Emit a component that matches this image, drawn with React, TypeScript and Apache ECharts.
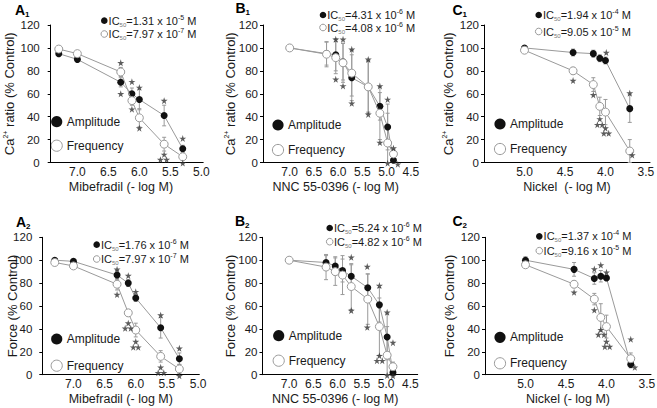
import React, { useEffect, useRef } from "react";
import * as echarts from "echarts";

const FONT = '"Liberation Sans", Arial, Helvetica, sans-serif';
const INK = "#1a1a1a";
const GREY = "#9a9a9a";
const STAR = "path://M50,0 L61,35 L98,35 L68,57 L79,91 L50,70 L21,91 L32,57 L2,35 L39,35 Z";

// ---------- x positions (-log M) ----------
const mibefradilLogM = [7.3, 7.0, 6.3, 6.12, 6.0, 5.6, 5.3];
const nncLogM = [7.0, 6.24, 6.05, 5.9, 5.72, 5.38, 5.14, 4.98, 4.86];
const nickelLogM = [5.0, 4.4, 4.15, 4.07, 4.0, 3.7];

const ticksA = [7.0, 6.5, 6.0, 5.5, 5.0];
const ticksB = [7.0, 6.5, 6.0, 5.5, 5.0, 4.5];
const ticksC = [5.0, 4.5, 4.0, 3.5];

// ---------- A1: Mibefradil, Ca2+ ratio ----------
const a1Amp = [95, 90, 70, 60, 55, 41, 12];
const a1AmpErr = [2, 2, 4, 5, 9, 9, 3];
const a1Freq = [99, 95, 79, 54, 39, 16, 5];
const a1FreqErr = [1, 2, 4, 4, 8, 6, 3];
const a1Stars = [[6.3, 87], [6.3, 60], [6.12, 70.5], [6.12, 46.5], [6.0, 65.5], [6.0, 30], [5.6, 54], [5.6, 7], [5.66, 2.5], [5.56, 2.5], [5.3, 21], [5.3, -0.5]];
const a1IC = [["1.31 x 10", "-5"], ["7.97 x 10", "-7"]];

// ---------- B1: NNC 55-0396, Ca2+ ratio ----------
const b1Amp = [100, 95, 94, 88, 74, 66, 49, 31, 2];
const b1AmpErr = [0, 10, 14, 16, 20, 22, 12, 20, 3];
const b1Freq = [100, 94.5, 91.5, 87, 78, 66, 43, 17, 7.5];
const b1FreqErr = [0, 11, 14, 17, 20, 23, 23, 26, 4];
const b1Stars = [[6.05, 107.5], [6.05, 72.6], [5.9, 107.5], [5.9, 66.8], [5.72, 98.8], [5.72, 51.7], [5.38, 90], [5.38, 42], [5.14, 66.8], [5.14, 17.4], [4.98, 55], [4.98, -0.6], [4.86, 12.5], [4.77, -1.5]];
const b1IC = [["4.31 x 10", "-6"], ["4.08 x 10", "-6"]];

// ---------- C1: Nickel, Ca2+ ratio ----------
const c1Amp = [100, 96, 95, 91, 89, 47];
const c1AmpErr = [1, 3, 3, 3, 3, 12];
const c1Freq = [98, 80, 68, 49, 44, 10];
const c1FreqErr = [1, 3, 6, 8, 11, 10];
const c1Stars = [[3.99, 96], [4.4, 71.5], [4.15, 59], [4.07, 38], [4.1, 33], [4.04, 33], [4.0, 30], [4.02, 25.5], [3.96, 25.5], [3.7, 60.5], [3.67, 6.5]];
const c1IC = [["1.94 x 10", "-4"], ["9.05 x 10", "-5"]];

// ---------- A2: Mibefradil, Force ----------
const a2Amp = [100, 99, 87, 80, 67, 41, 14];
const a2AmpErr = [1, 1, 4, 3, 3, 9, 5];
const a2Freq = [98, 95, 79, 54, 39, 16, 5];
const a2FreqErr = [1, 2, 5, 3, 6, 5, 4];
const a2Stars = [[6.3, 92], [6.3, 70], [6.12, 86.5], [6.12, 45], [6.17, 40.5], [6.08, 40.5], [6.0, 72.5], [6.0, 29], [6.04, 24], [5.96, 24], [5.6, 52], [5.6, 6.4], [5.64, 1.7], [5.55, 1.7], [5.3, 23], [5.3, -1]];
const a2IC = [["1.76 x 10", "-6"], ["7.97 x 10", "-7"]];

// ---------- B2: NNC 55-0396, Force ----------
const b2Amp = [100, 98, 95, 91, 86, 76, 61, 33, 2];
const b2AmpErr = [0, 6, 8, 10, 10, 12, 15, 20, 3];
const b2Freq = [100, 94, 90, 87, 77, 66, 42, 17, 7];
const b2FreqErr = [0, 11, 12, 17, 20, 22, 25, 25, 4];
const b2Stars = [[5.72, 102.5], [5.72, 56], [5.39, 94.4], [5.39, 41.4], [5.14, 77.8], [5.14, 16.6], [5.19, 12.2], [5.08, 12.2], [4.98, 54.5], [4.98, -0.6], [4.86, 28], [4.86, -1]];
const b2IC = [["5.24 x 10", "-6"], ["4.82 x 10", "-6"]];

// ---------- C2: Nickel, Force ----------
const c2Amp = [100, 92, 84, 86, 84.5, 9];
const c2AmpErr = [3, 6, 5, 5, 2, 3];
const c2Freq = [96, 79, 66, 50, 42, 14];
const c2FreqErr = [2, 3, 5, 12, 10, 5];
const c2Stars = [[4.15, 92.3], [4.07, 95.8], [4.0, 89.4], [4.4, 72], [4.15, 56.5], [4.07, 39.3], [4.1, 35], [4.03, 35], [4.0, 29], [4.02, 24.5], [3.96, 24.5], [3.7, 31], [3.65, 6.4]];
const c2IC = [["1.37 x 10", "-4"], ["9.16 x 10", "-5"]];

const yName1 = "{a|Ca}{s|2+}{a| ratio (% Control)}";
const yName2 = "{a|Force (% Control)}";

// ---------- layout ----------
const panels = [
  { title: ["A", "1"], tpos: [15, 3], grid: { left: 50.7, top: 25, width: 152.5, height: 137.5 }, xMin: 4.97, xMax: 7.43, ticks: ticksA, xs: mibefradilLogM, amp: a1Amp, ampErr: a1AmpErr, freq: a1Freq, freqErr: a1FreqErr, stars: a1Stars, ic: a1IC, icPos: [104.3, 20.7, 34], legPos: [56.7, 121.7, 145.7], xName: "Mibefradil (- log M)", yName: yName1, yGap: 33.5, yLabMargin: 11, xNamePad: [0, 12, 0, 0] },
  { title: ["B", "1"], tpos: [235.5, 1], grid: { left: 263, top: 25, width: 155.2, height: 137.5 }, xMin: 4.35, xMax: 7.55, ticks: ticksB, xs: nncLogM, amp: b1Amp, ampErr: b1AmpErr, freq: b1Freq, freqErr: b1FreqErr, stars: b1Stars, ic: b1IC, icPos: [323, 15, 27.5], legPos: [278, 125, 150], xName: "NNC 55-0396 (- log M)", yName: yName1, yGap: 25, yLabMargin: 5, xNamePad: [0, 10, 0, 0] },
  { title: ["C", "1"], tpos: [452.5, 3], grid: { left: 484, top: 25, width: 166, height: 137.5 }, xMin: 3.45, xMax: 5.5, ticks: ticksC, xs: nickelLogM, amp: c1Amp, ampErr: c1AmpErr, freq: c1Freq, freqErr: c1FreqErr, stars: c1Stars, ic: c1IC, icPos: [538.7, 15, 31.5], legPos: [500, 124, 149], xName: "Nickel  (- log M)", yName: yName1, yGap: 28.5, yLabMargin: 5, xNamePad: [0, 0, 0, 0] },
  { title: ["A", "2"], tpos: [16, 215], grid: { left: 42.3, top: 237.3, width: 157, height: 137.4 }, xMin: 4.98, xMax: 7.5, ticks: ticksA, xs: mibefradilLogM, amp: a2Amp, ampErr: a2AmpErr, freq: a2Freq, freqErr: a2FreqErr, stars: a2Stars, ic: a2IC, icPos: [96.7, 244.7, 259], legPos: [56.7, 339, 365.7], xName: "Mibefradil (- log M)", yName: yName2, yGap: 22.5, yLabMargin: 10, xNamePad: [0, 0, 0, 0] },
  { title: ["B", "2"], tpos: [235, 214], grid: { left: 262.5, top: 237.3, width: 155.2, height: 137.4 }, xMin: 4.35, xMax: 7.55, ticks: ticksB, xs: nncLogM, amp: b2Amp, ampErr: b2AmpErr, freq: b2Freq, freqErr: b2FreqErr, stars: b2Stars, ic: b2IC, icPos: [329.7, 228, 241.7], legPos: [278.7, 335.7, 360.7], xName: "NNC 55-0396 (- log M)", yName: yName2, yGap: 25, yLabMargin: 5, xNamePad: [0, 10, 0, 0] },
  { title: ["C", "2"], tpos: [452.5, 214], grid: { left: 485, top: 237.3, width: 166, height: 137.4 }, xMin: 3.45, xMax: 5.5, ticks: ticksC, xs: nickelLogM, amp: c2Amp, ampErr: c2AmpErr, freq: c2Freq, freqErr: c2FreqErr, stars: c2Stars, ic: c2IC, icPos: [539.3, 236.3, 250.7], legPos: [500, 337.3, 363.3], xName: "Nickel (- log M)", yName: yName2, yGap: 28.5, yLabMargin: 5, xNamePad: [0, 0, 0, 0] },
];

function errRender(params: any, api: any) {
  const x = api.value(0);
  const lo = api.value(1);
  const hi = api.value(2);
  const p1 = api.coord([x, hi]);
  const p2 = api.coord([x, lo]);
  const w = 2;
  const st = { stroke: GREY, lineWidth: 1 };
  return {
    type: "group",
    children: [
      { type: "line", shape: { x1: p1[0], y1: p1[1], x2: p2[0], y2: p2[1] }, style: st },
      { type: "line", shape: { x1: p1[0] - w, y1: p1[1], x2: p1[0] + w, y2: p1[1] }, style: st },
      { type: "line", shape: { x1: p2[0] - w, y1: p2[1], x2: p2[0] + w, y2: p2[1] }, style: st },
    ],
  };
}

const icRich = {
  t: { fontSize: 11, fontFamily: FONT, fill: INK, lineHeight: 14 },
  s: { fontSize: 6, fontFamily: FONT, fill: "#777", lineHeight: 6, verticalAlign: "top", padding: [8, 0, 0, 0] },
  p: { fontSize: 7, fontFamily: FONT, fill: INK, lineHeight: 7, verticalAlign: "top" },
};

function buildOption() {
  const grid: any[] = [];
  const xAxis: any[] = [];
  const yAxis: any[] = [];
  const series: any[] = [];
  const graphic: any[] = [];

  panels.forEach((p, i) => {
    grid.push({ ...p.grid, containLabel: false, outerBoundsMode: "none" });
    xAxis.push({
      type: "value",
      gridIndex: i,
      min: p.xMin,
      max: p.xMax,
      inverse: true,
      axisLine: { show: true, onZero: false, lineStyle: { color: "#000", width: 1 } },
      axisTick: { show: false },
      splitLine: { show: false },
      axisLabel: {
        customValues: p.ticks,
        formatter: (v: number) => Number(v).toFixed(1),
        fontSize: 12,
        fontFamily: FONT,
        color: INK,
        margin: 3,
      },
      name: p.xName,
      nameLocation: "middle",
      nameGap: 18,
      nameTextStyle: { fontSize: 12.5, fontFamily: FONT, color: INK, padding: p.xNamePad },
    });
    yAxis.push({
      type: "value",
      gridIndex: i,
      min: 0,
      max: 120,
      interval: 20,
      axisLine: { show: true, lineStyle: { color: "#000", width: 1 } },
      axisTick: { show: true, length: 3, lineStyle: { color: "#000" } },
      splitLine: { show: false },
      axisLabel: { fontSize: 11.5, fontFamily: FONT, color: INK, margin: p.yLabMargin },
      name: p.yName,
      nameLocation: "middle",
      nameGap: p.yGap,
      nameMoveOverlap: false,
      nameTextStyle: {
        fontSize: 13,
        fontFamily: FONT,
        color: INK,
        rich: {
          a: { fontSize: 13, fontFamily: FONT, color: INK, lineHeight: 15 },
          s: { fontSize: 7, fontFamily: FONT, color: INK, lineHeight: 8, verticalAlign: "top" },
        },
      },
    });

    const ampErrData = p.xs.map((x, k) => [x, Math.max(0, p.amp[k] - p.ampErr[k]), p.amp[k] + p.ampErr[k]]);
    const freqErrData = p.xs.map((x, k) => [x, Math.max(0, p.freq[k] - p.freqErr[k]), p.freq[k] + p.freqErr[k]]);
    series.push({ type: "custom", name: "Amplitude error", xAxisIndex: i, yAxisIndex: i, renderItem: errRender, encode: { x: 0, y: [1, 2] }, data: ampErrData, z: 1 });
    series.push({ type: "custom", name: "Frequency error", xAxisIndex: i, yAxisIndex: i, renderItem: errRender, encode: { x: 0, y: [1, 2] }, data: freqErrData, z: 1 });
    series.push({
      type: "line",
      name: "Amplitude",
      xAxisIndex: i,
      yAxisIndex: i,
      data: p.xs.map((x, k) => [x, p.amp[k]]),
      symbol: "circle",
      symbolSize: 7,
      showAllSymbol: true,
      lineStyle: { color: GREY, width: 1 },
      itemStyle: { color: "#111", borderColor: "#111", borderWidth: 0 },
      z: 2,
    });
    series.push({
      type: "line",
      name: "Frequency",
      xAxisIndex: i,
      yAxisIndex: i,
      data: p.xs.map((x, k) => [x, p.freq[k]]),
      symbol: "circle",
      symbolSize: 8,
      showAllSymbol: true,
      lineStyle: { color: GREY, width: 1 },
      itemStyle: { color: "#fff", borderColor: GREY, borderWidth: 1 },
      z: 3,
    });
    series.push({
      type: "scatter",
      name: "Significance",
      xAxisIndex: i,
      yAxisIndex: i,
      data: p.stars,
      symbol: STAR,
      symbolSize: 7,
      clip: false,
      itemStyle: { color: "#333" },
      z: 4,
    });

    // title
    graphic.push({ type: "text", x: p.tpos[0], y: p.tpos[1], style: { text: p.title[0], font: `bold 14px ${FONT}`, fill: "#000", textVerticalAlign: "top", verticalAlign: "top" } });
    graphic.push({ type: "text", x: p.tpos[0] + 10, y: p.tpos[1] + 7, style: { text: p.title[1], font: `bold 8px ${FONT}`, fill: "#000", textVerticalAlign: "top", verticalAlign: "top" } });

    // IC50 legend
    const [ix, iy1, iy2] = p.icPos;
    graphic.push({ type: "circle", shape: { cx: ix, cy: iy1, r: 3.3 }, style: { fill: "#111" } });
    graphic.push({ type: "circle", shape: { cx: ix, cy: iy2, r: 3.3 }, style: { fill: "#fff", stroke: GREY, lineWidth: 1 } });
    [iy1, iy2].forEach((yy, k) => {
      graphic.push({
        type: "text",
        x: ix + 4.3,
        y: yy,
        style: {
          text: `{t|IC}{s|50}{t|=${p.ic[k][0]}}{p|${p.ic[k][1]}}{t| M}`,
          rich: icRich,
          textVerticalAlign: "middle",
          verticalAlign: "middle",
        },
      });
    });

    // symbol legend
    const [lx, ly1, ly2] = p.legPos;
    graphic.push({ type: "circle", shape: { cx: lx, cy: ly1, r: 5.6 }, style: { fill: "#111" } });
    graphic.push({ type: "circle", shape: { cx: lx, cy: ly2, r: 5.6 }, style: { fill: "#fff", stroke: GREY, lineWidth: 1 } });
    graphic.push({ type: "text", x: lx + 10, y: ly1, style: { text: "Amplitude", font: `12px ${FONT}`, fill: INK, textVerticalAlign: "middle", verticalAlign: "middle" } });
    graphic.push({ type: "text", x: lx + 10, y: ly2, style: { text: "Frequency", font: `12px ${FONT}`, fill: INK, textVerticalAlign: "middle", verticalAlign: "middle" } });
  });

  return {
    animation: false,
    backgroundColor: "#fff",
    textStyle: { fontFamily: FONT },
    grid,
    xAxis,
    yAxis,
    series,
    graphic,
  };
}

export default function App() {
  const ref = useRef<HTMLDivElement>(null);
  useEffect(() => {
    if (!ref.current) return;
    const chart = echarts.init(ref.current, undefined, { renderer: "svg" });
    chart.setOption(buildOption() as any);
    return () => chart.dispose();
  }, []);
  return (
    <div
      ref={ref}
      style={{ position: "absolute", left: 0, top: 0, width: 657, height: 408, background: "#fff" }}
    />
  );
}
